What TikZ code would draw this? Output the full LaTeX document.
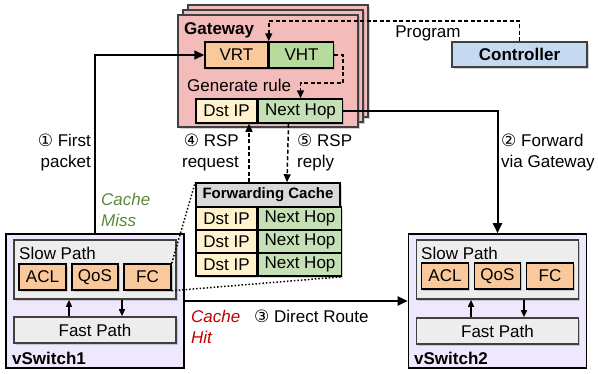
\documentclass[tikz,border=0pt]{standalone}
\usepackage{fontspec}
\setmainfont{Liberation Sans}
\newfontfamily\circfont{DejaVu Sans}
\usetikzlibrary{positioning,arrows.meta,shadows}

\definecolor{gwpink}{HTML}{F4BBBB}
\definecolor{edgegray}{HTML}{404040}
\definecolor{tblorange}{HTML}{F9C99C}
\definecolor{vhtgreen}{HTML}{B7DA9E}
\definecolor{hopgreen}{HTML}{C5E0B4}
\definecolor{dstcream}{HTML}{FFF2CC}
\definecolor{headgray}{HTML}{D9D9D9}
\definecolor{pathgray}{HTML}{EDEDED}
\definecolor{vsviolet}{HTML}{EFE7FB}
\definecolor{ctrlblue}{HTML}{C5DAF0}
\definecolor{missgreen}{HTML}{5A8A3A}
\definecolor{hitred}{HTML}{C00000}

\newcommand{\cnum}[1]{{\circfont #1}}

\tikzstyle{shade} = [drop shadow={opacity=0.35, shadow xshift=1.5pt, shadow yshift=-1.5pt}]
\tikzstyle{cell} = [
        draw=black, line width=1.5pt, inner sep=0pt, minimum height=24pt, shade
    ]
\tikzstyle{gwlayer} = [
        draw=edgegray, fill=gwpink, line width=1.6pt, minimum width=180pt, minimum height=112pt, shade
    ]
\tikzstyle{graybox} = [
        draw=edgegray, fill=pathgray, line width=1.6pt, inner sep=0pt, minimum width=162pt, shade
    ]
\tikzstyle{vswitch} = [
        draw=black, fill=vsviolet, line width=1.6pt, minimum width=178pt, minimum height=134pt
    ]
\tikzstyle{lbl} = [inner sep=0pt]
\tikzstyle{flow} = [line width=2pt, -{Triangle[length=10pt,width=9pt]}]
\tikzstyle{ctl} = [line width=1.5pt, dash pattern=on 4pt off 2.5pt, -{Triangle[length=8pt,width=7pt]}]
\tikzstyle{inner} = [line width=1.5pt, -{Triangle[length=7pt,width=6pt]}]
\tikzstyle{zoomline} = [line width=1.5pt, dotted]

\begin{document}
\begin{tikzpicture}[x=1pt, y=-1pt, font=\fontsize{17}{21}\selectfont]
    \useasboundingbox (0,0) rectangle (598,373);
    % gateway with its stacked instances
    \node [gwlayer] (gw3) at (278,61) {};
    \node [gwlayer] (gw2) at (273,66) {};
    \node [gwlayer] (gw) at (268,71) {};
    \node [lbl, anchor=west, font=\bfseries\fontsize{17}{21}\selectfont] (gwlabel) at (184,30) {Gateway};
    \node [cell, fill=tblorange, minimum width=63pt, minimum height=26pt] (vrt) at (236.5,55) {VRT};
    \node [cell, fill=vhtgreen, minimum width=64pt, minimum height=26pt, right=0pt of vrt] (vht) {VHT};
    \node [lbl, anchor=west] (genrule) at (187,85) {Generate rule};
    \node [cell, fill=dstcream, minimum width=61pt] (gwdst) at (226.5,111) {Dst IP};
    \node [cell, fill=hopgreen, minimum width=84pt, right=0pt of gwdst] (gwhop) {Next Hop};

    % controller
    \node [cell, draw=edgegray, fill=ctrlblue, minimum width=135pt, minimum height=25pt,
        font=\bfseries\fontsize{17}{21}\selectfont] (ctrl) at (519.5,54.5) {Controller};
    \node [lbl] (prog) at (428,33) {Program};
    \coordinate (progtop) at (519.5,21);
    \coordinate (ruleturn) at (343,83);

    % forwarding cache
    \node [cell, fill=headgray, minimum width=144pt,
        font=\bfseries\fontsize{15}{18}\selectfont] (fchead) at (268,195) {Forwarding Cache};
    \node [cell, fill=dstcream, minimum width=61pt, minimum height=23pt] (dst1) at (226.5,218.5) {Dst IP};
    \node [cell, fill=hopgreen, minimum width=83pt, minimum height=23pt, right=0pt of dst1] (hop1) {Next Hop};
    \node [cell, fill=dstcream, minimum width=61pt, minimum height=23pt] (dst2) at (226.5,241.5) {Dst IP};
    \node [cell, fill=hopgreen, minimum width=83pt, minimum height=23pt, right=0pt of dst2] (hop2) {Next Hop};
    \node [cell, fill=dstcream, minimum width=61pt, minimum height=23pt] (dst3) at (226.5,264.5) {Dst IP};
    \node [cell, fill=hopgreen, minimum width=83pt, minimum height=23pt, right=0pt of dst3] (hop3) {Next Hop};

    % vSwitch1
    \node [vswitch] (vs1) at (95,301) {};
    \node [graybox, minimum height=59pt] (slow1) at (95,269.5) {};
    \node [lbl, anchor=west] (slowlbl1) at (19,253) {Slow Path};
    \node [cell, fill=tblorange, minimum width=47pt, minimum height=26pt] (acl1) at (42.5,277) {ACL};
    \node [cell, fill=tblorange, minimum width=46pt, minimum height=26pt] (qos1) at (95,277) {QoS};
    \node [cell, fill=tblorange, minimum width=47pt, minimum height=26pt] (fc1) at (147.5,277) {FC};
    \node [graybox, minimum height=26pt] (fast1) at (95,330) {Fast Path};
    \node [lbl, anchor=west, font=\bfseries\fontsize{17}{21}\selectfont] (vslbl1) at (12,358) {vSwitch1};
    \draw [inner] ([xshift=-26pt]fast1.north) -- ([xshift=-26pt]slow1.south);
    \draw [inner] ([xshift=27pt]slow1.south) -- ([xshift=27pt]fast1.north);

    % vSwitch2
    \node [vswitch] (vs2) at (497.5,301) {};
    \node [graybox, minimum height=59pt] (slow2) at (497.5,269.5) {};
    \node [lbl, anchor=west] (slowlbl2) at (421,253) {Slow Path};
    \node [cell, fill=tblorange, minimum width=47pt, minimum height=26pt] (acl2) at (445,276) {ACL};
    \node [cell, fill=tblorange, minimum width=46pt, minimum height=26pt] (qos2) at (497.5,276) {QoS};
    \node [cell, fill=tblorange, minimum width=47pt, minimum height=26pt] (fc2) at (550,276) {FC};
    \node [graybox, minimum height=26pt] (fast2) at (497.5,331) {Fast Path};
    \node [lbl, anchor=west, font=\bfseries\fontsize{17}{21}\selectfont] (vslbl2) at (414,358) {vSwitch2};
    \draw [inner] ([xshift=-26.5pt]fast2.north) -- ([xshift=-26.5pt]slow2.south);
    \draw [inner] ([xshift=26.5pt]slow2.south) -- ([xshift=26.5pt]fast2.north);

    % packet paths
    \draw [flow] (vs1.north) |- (vrt.west);
    \draw [flow] (gwhop.east) -| (vs2.north);
    \draw [flow] (vs1.east) -- (vs2.west);
    \draw [ctl] (ctrl.north) -- (progtop) -| (vrt.north east);
    \draw [ctl] (vht.east) -| (ruleturn) -| (gwhop.north);
    \draw [ctl] ([xshift=-19pt]fchead.north) -- ([xshift=22.5pt]gwdst.south);
    \draw [ctl] ([xshift=-12pt]gwhop.south) -- ([xshift=19pt]fchead.north);
    \draw [zoomline] (fc1.north east) -- (fchead.north west);
    \draw [zoomline] (fc1.south east) -- (hop3.south east);

    % step labels
    \node [lbl, anchor=east, align=right] (first) at (91,152) {\cnum{①} First\\packet};
    \node [lbl, anchor=west, align=left] (fwd) at (501,152) {\cnum{②} Forward\\via Gateway};
    \node [lbl, anchor=east, align=right] (req) at (239,152) {\cnum{④} RSP\\request};
    \node [lbl, anchor=west, align=left] (rep) at (297,152) {\cnum{⑤} RSP\\reply};
    \node [lbl, anchor=west, align=left, text=missgreen, font=\itshape\fontsize{17}{21}\selectfont] (miss) at (101,210) {Cache\\Miss};
    \node [lbl, anchor=west, align=left, text=hitred, font=\itshape\fontsize{17}{21}\selectfont] (hit) at (191,327) {Cache\\Hit};
    \node [lbl, anchor=west] (direct) at (254,316) {\cnum{③} Direct Route};
\end{tikzpicture}
\end{document}
